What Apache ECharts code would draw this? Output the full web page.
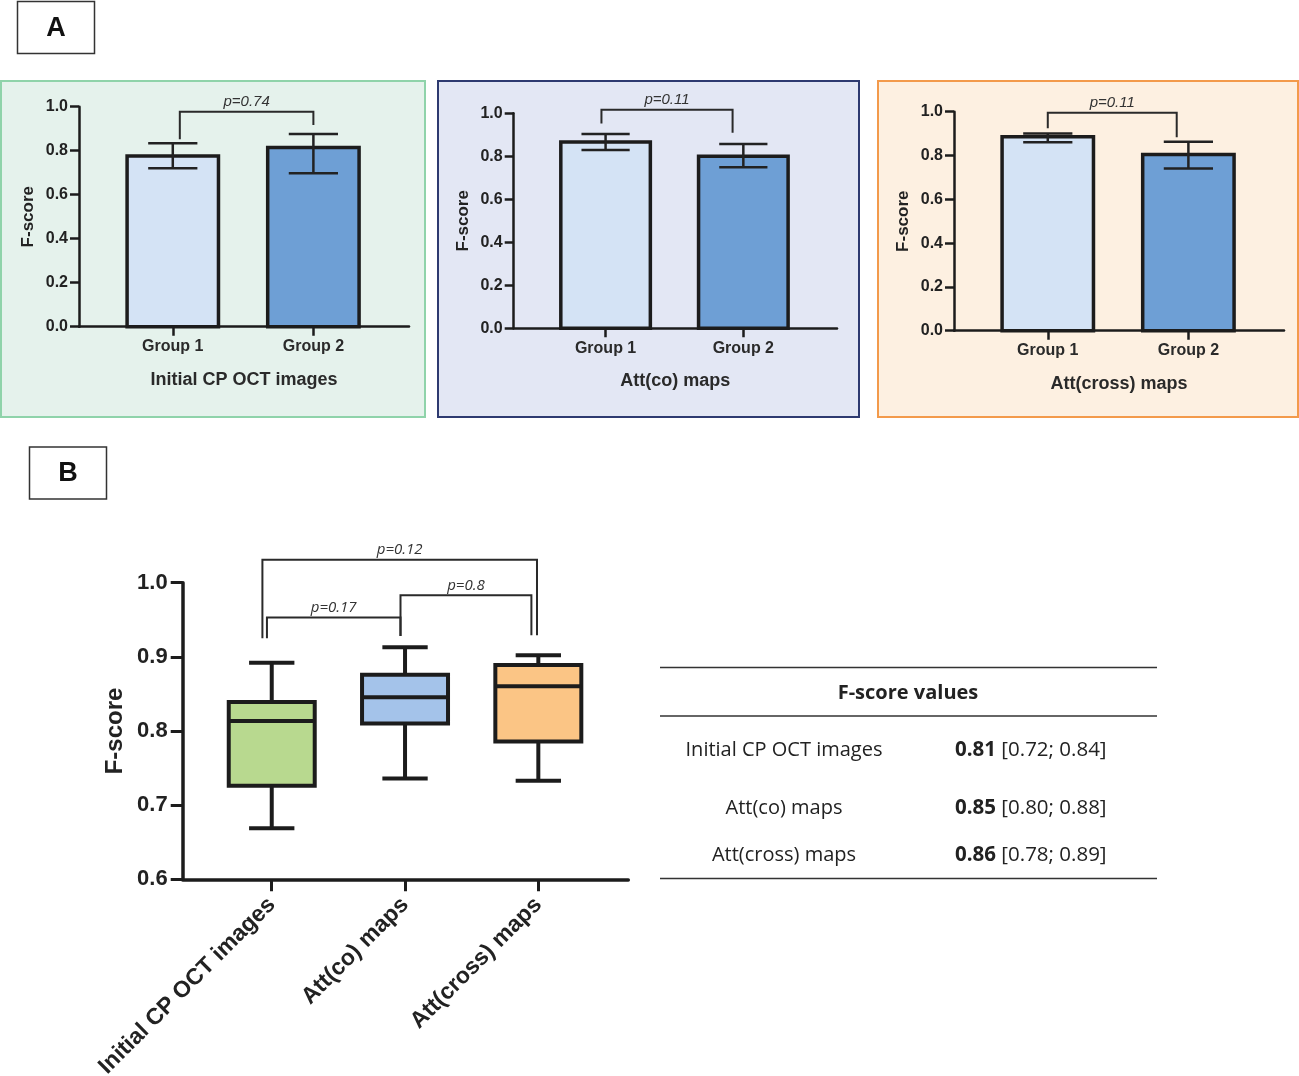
<!DOCTYPE html>
<html><head><meta charset="utf-8">
<script src="https://cdn.jsdelivr.net/npm/echarts@6/dist/echarts.min.js"></script>
<style>html,body{margin:0;padding:0;background:#fff}#c{width:1299px;height:1076px}</style>
</head><body><div id="c"></div>
<script>
// ---------- data ----------
const groups = ['Group 1', 'Group 2'];
const panelTitles = ['Initial CP OCT images', 'Att(co) maps', 'Att(cross) maps'];
const meanA = [[0.776, 0.814], [0.866, 0.800], [0.886, 0.805]];
const errLowA = [[0.720, 0.697], [0.829, 0.749], [0.860, 0.741]];
const errHighA = [[0.834, 0.876], [0.904, 0.857], [0.901, 0.863]];
const pA = ['p=0.74', 'p=0.11', 'p=0.11'];
// bracket: [xLeft, yLeftEnd, xRight, yRightEnd, yTop]
const bracketA = [[0.05, 0.852, 1.0, 0.917, 0.977], [-0.03, 0.953, 0.922, 0.91, 1.017], [0.0, 0.924, 0.917, 0.883, 0.995]];

const boxCats = ['Initial CP OCT images', 'Att(co) maps', 'Att(cross) maps'];
const boxMin = [0.669, 0.736, 0.733];
const boxQ1 = [0.726, 0.810, 0.786];
const boxMed = [0.8135, 0.8455, 0.8605];
const boxQ3 = [0.839, 0.876, 0.889];
const boxMax = [0.892, 0.913, 0.902];
const pB = ['p=0.12', 'p=0.17', 'p=0.8'];
const bracketB = [[-0.07, 0.925, 1.99, 0.929, 1.031], [-0.036, 0.925, 0.966, 0.928, 0.953], [0.966, 0.928, 1.948, 0.929, 0.983]];

const tableHeader = 'F-score values';
const tableRows = ['Initial CP OCT images', 'Att(co) maps', 'Att(cross) maps'];
const tableMedian = ['0.81', '0.85', '0.86'];
const tableIQR = ['[0.72; 0.84]', '[0.80; 0.88]', '[0.78; 0.89]'];

// ---------- styles ----------
const INK = '#1c1c1c';
const AR = 'Liberation Sans, Arial, sans-serif';
const OS = 'Open Sans, Noto Sans, sans-serif';
const barColors = ['#d4e3f5', '#6e9fd5'];
const boxColors = ['#b8d98f', '#a4c3ea', '#fbc585'];
const panelStyle = [
  { x: 1, y: 81, w: 424, h: 336, fill: '#e5f2ec', stroke: '#8fd3aa' },
  { x: 438, y: 81, w: 421, h: 336, fill: '#e3e7f4', stroke: '#2e3a70' },
  { x: 878, y: 81, w: 420, h: 336, fill: '#fdf0e1', stroke: '#f39a4b' }
];
const gridsA = [
  { left: 79, top: 106.7, width: 330, height: 220, outerBoundsMode: 'none', containLabel: false },
  { left: 513.7, top: 113.3, width: 323.3, height: 215, outerBoundsMode: 'none', containLabel: false },
  { left: 954, top: 111.7, width: 330, height: 219, outerBoundsMode: 'none', containLabel: false }
];

function barRender(params, api) {
  const x = api.value(0), y = api.value(1), w = 0.65;
  const p0 = api.coord([x - w / 2, y]), p1 = api.coord([x + w / 2, 0]);
  return { type: 'rect', shape: { x: p0[0], y: p0[1], width: p1[0] - p0[0], height: p1[1] - p0[1] },
    style: { fill: barColors[params.dataIndex], stroke: INK, lineWidth: 3.5 } };
}
function errRender(params, api) {
  const x = api.value(0), lo = api.value(1), hi = api.value(2), c = 0.175;
  const a = api.coord([x, lo]), b = api.coord([x, hi]);
  const l1 = api.coord([x - c, lo]), r1 = api.coord([x + c, lo]);
  const l2 = api.coord([x - c, hi]), r2 = api.coord([x + c, hi]);
  const st = { stroke: '#222', lineWidth: 2.5 };
  return { type: 'group', children: [
    { type: 'line', shape: { x1: a[0], y1: a[1], x2: b[0], y2: b[1] }, style: st },
    { type: 'line', shape: { x1: l1[0], y1: l1[1], x2: r1[0], y2: r1[1] }, style: st },
    { type: 'line', shape: { x1: l2[0], y1: l2[1], x2: r2[0], y2: r2[1] }, style: st }
  ] };
}
function bracketRender(labels, font, lw) {
  return function (params, api) {
    const x1 = api.value(0), y1 = api.value(1), x2 = api.value(2), y2 = api.value(3), yt = api.value(4);
    const pts = [api.coord([x1, y1]), api.coord([x1, yt]), api.coord([x2, yt]), api.coord([x2, y2])];
    const mid = api.coord([(x1 + x2) / 2, yt]);
    return { type: 'group', children: [
      { type: 'polyline', shape: { points: pts }, style: { stroke: '#2a2a2a', lineWidth: lw, fill: null } },
      { type: 'text', x: mid[0], y: mid[1] - 2, style: { text: labels[params.dataIndex], align: 'center', verticalAlign: 'bottom', font: font, fill: '#333' } }
    ] };
  };
}
function boxRender(params, api) {
  const x = api.value(0), mn = api.value(1), q1 = api.value(2), md = api.value(3), q3 = api.value(4), mx = api.value(5);
  const w = 0.645, c = 0.17;
  const st = { stroke: INK, lineWidth: 4 };
  const P = v => api.coord(v);
  const bl = P([x - w / 2, q3]), br = P([x + w / 2, q1]);
  const seg = (a, b) => ({ type: 'line', shape: { x1: a[0], y1: a[1], x2: b[0], y2: b[1] }, style: st });
  return { type: 'group', children: [
    seg(P([x, mx]), P([x, q3])),
    seg(P([x, q1]), P([x, mn])),
    seg(P([x - c, mx]), P([x + c, mx])),
    seg(P([x - c, mn]), P([x + c, mn])),
    { type: 'rect', shape: { x: bl[0], y: bl[1], width: br[0] - bl[0], height: br[1] - bl[1] }, style: { fill: boxColors[params.dataIndex], stroke: INK, lineWidth: 4 } },
    seg(P([x - w / 2, md]), P([x + w / 2, md]))
  ] };
}

// ---------- build option ----------
const grid = [], xAxis = [], yAxis = [], series = [];
for (let i = 0; i < 3; i++) {
  grid.push(gridsA[i]);
  xAxis.push({
    gridIndex: i, type: 'value', min: -0.667, max: 1.68,
    axisLine: { show: true, onZero: false, lineStyle: { color: INK, width: 2.5 } },
    axisTick: { show: true, customValues: [0, 1], length: 9, lineStyle: { color: INK, width: 2.5 } },
    axisLabel: { show: true, customValues: [0, 1], formatter: v => groups[Math.round(v)], margin: 12,
      fontFamily: AR, fontWeight: 'bold', fontSize: 16, color: '#2a2a2a' },
    splitLine: { show: false },
    name: panelTitles[i], nameLocation: 'middle', nameGap: 44,
    nameTextStyle: { fontFamily: AR, fontWeight: 'bold', fontSize: 18, color: '#2a2a2a' }
  });
  yAxis.push({
    gridIndex: i, type: 'value', min: 0, max: 1, interval: 0.2,
    axisLine: { show: true, onZero: false, lineStyle: { color: INK, width: 2.5 } },
    axisTick: { show: true, length: 9, lineStyle: { color: INK, width: 2.5 } },
    axisLabel: { margin: 11, formatter: v => v.toFixed(1), fontFamily: AR, fontWeight: 'bold', fontSize: 16, color: '#222' },
    splitLine: { show: false },
    name: 'F-score', nameLocation: 'middle', nameGap: 42, nameRotate: 90,
    nameTextStyle: { fontFamily: AR, fontWeight: 'bold', fontSize: 17, color: '#222' }
  });
  series.push({ type: 'custom', xAxisIndex: i, yAxisIndex: i, z: 2, renderItem: barRender,
    data: meanA[i].map((m, k) => [k, m]) });
  series.push({ type: 'custom', xAxisIndex: i, yAxisIndex: i, z: 3, renderItem: errRender,
    data: meanA[i].map((m, k) => [k, errLowA[i][k], errHighA[i][k]]) });
  series.push({ type: 'custom', xAxisIndex: i, yAxisIndex: i, z: 3,
    renderItem: bracketRender([pA[i]], 'italic 15px ' + AR, 2),
    data: [bracketA[i]] });
}
// Panel B
grid.push({ left: 182.7, top: 582.7, width: 445.6, height: 296.6, outerBoundsMode: 'none', containLabel: false });
xAxis.push({
  gridIndex: 3, type: 'value', min: -0.668, max: 2.675,
  axisLine: { show: true, onZero: false, lineStyle: { color: INK, width: 3.5 } },
  axisTick: { show: true, customValues: [0, 1, 2], length: 12, lineStyle: { color: INK, width: 3 } },
  axisLabel: { show: true, customValues: [0, 1, 2], formatter: v => boxCats[Math.round(v)], rotate: 45, margin: 22,
    fontFamily: AR, fontWeight: 'bold', fontSize: 23, color: '#222' },
  splitLine: { show: false }
});
yAxis.push({
  gridIndex: 3, type: 'value', min: 0.6, max: 1.0, interval: 0.1,
  axisLine: { show: true, onZero: false, lineStyle: { color: INK, width: 3.5 } },
  axisTick: { show: true, length: 12, lineStyle: { color: INK, width: 3 } },
  axisLabel: { margin: 15, formatter: v => v.toFixed(1), fontFamily: AR, fontWeight: 'bold', fontSize: 22, color: '#222' },
  splitLine: { show: false },
  name: 'F-score', nameLocation: 'middle', nameGap: 55, nameRotate: 90,
  nameTextStyle: { fontFamily: AR, fontWeight: 'bold', fontSize: 24, color: '#222' }
});
series.push({ type: 'custom', xAxisIndex: 3, yAxisIndex: 3, z: 2, renderItem: boxRender,
  data: boxCats.map((c, k) => [k, boxMin[k], boxQ1[k], boxMed[k], boxQ3[k], boxMax[k]]) });
series.push({ type: 'custom', xAxisIndex: 3, yAxisIndex: 3, z: 3,
  renderItem: bracketRender(pB, 'italic 15px ' + OS, 2), data: bracketB });

// ---------- graphics (panels, letters, table) ----------
const graphic = [];
panelStyle.forEach(p => graphic.push({ type: 'rect', z: -10, shape: { x: p.x, y: p.y, width: p.w, height: p.h },
  style: { fill: p.fill, stroke: p.stroke, lineWidth: 2 } }));
[['A', 17.5, 1.5, 77, 52], ['B', 29.5, 447, 77, 52]].forEach(([t, x, y, w, h]) => {
  graphic.push({ type: 'rect', shape: { x, y, width: w, height: h }, style: { fill: '#fff', stroke: '#333', lineWidth: 1.5 } });
  graphic.push({ type: 'text', x: x + w / 2, y: y + h / 2 + 1, style: { text: t, align: 'center', verticalAlign: 'middle',
    font: 'bold 27px ' + AR, fill: '#111' } });
});
[667.5, 716, 878.5].forEach(y => graphic.push({ type: 'line', shape: { x1: 660, y1: y, x2: 1157, y2: y },
  style: { stroke: '#333', lineWidth: 1.5 } }));
graphic.push({ type: 'text', x: 908, y: 693, style: { text: tableHeader, align: 'center', verticalAlign: 'middle',
  font: 'bold 20px ' + OS, fill: '#222' } });
const rowY = [750, 808, 855];
tableRows.forEach((r, k) => {
  graphic.push({ type: 'text', x: 784, y: rowY[k], style: { text: r, align: 'center', verticalAlign: 'middle',
    font: '20px ' + OS, fill: '#222' } });
  graphic.push({ type: 'text', x: 955, y: rowY[k], style: { text: '{b|' + tableMedian[k] + '} ' + tableIQR[k],
    align: 'left', verticalAlign: 'middle', font: '20.5px ' + OS, fill: '#222',
    rich: { b: { font: 'bold 20.5px ' + OS, fill: '#222' } } } });
});

const chart = echarts.init(document.getElementById('c'), null, { renderer: 'canvas' });
chart.setOption({ backgroundColor: '#fff', animation: false, grid, xAxis, yAxis, series, graphic });
</script></body></html>
